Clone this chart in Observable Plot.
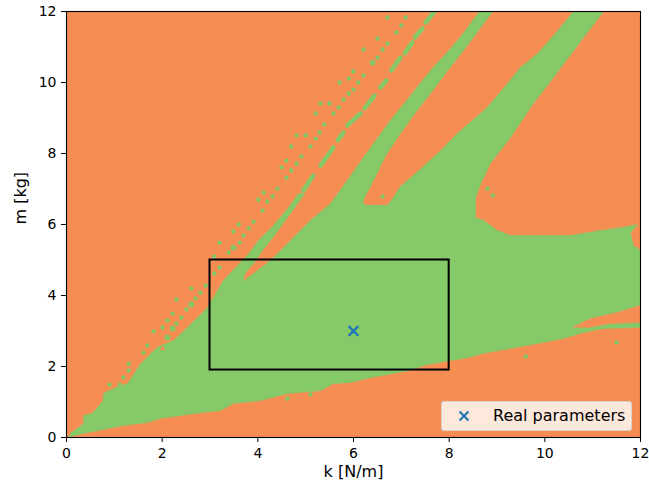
<!DOCTYPE html>
<html><head><meta charset="utf-8">
<script src="https://cdn.jsdelivr.net/npm/d3@7"></script>
<script src="https://cdn.jsdelivr.net/npm/@observablehq/plot@0.6"></script>
<style>
body{margin:0;background:#fff;}
#wrap{position:relative;width:649px;height:491px;font-family:"DejaVu Sans",sans-serif;}
#legend{position:absolute;left:441px;top:401px;width:191px;height:30px;background:rgba(255,255,255,0.8);border:1px solid rgba(204,204,204,0.8);border-radius:3px;box-sizing:border-box;}
#legend svg{position:absolute;left:16px;top:8px;}
#legend span{position:absolute;left:51px;top:4px;font-size:16px;line-height:20px;color:#000;white-space:nowrap;}
</style>
</head><body>
<div id="wrap">
<div id="legend"><svg width="12" height="12" viewBox="0 0 12 12"><path d="M1.5,1.5L10.5,10.5M10.5,1.5L1.5,10.5" stroke="#1f77b4" stroke-width="2.2"/></svg><span>Real parameters</span></div>
</div>
<script>
// ---- data (k [N/m], m [kg]) ----
const xTicks = [0, 2, 4, 6, 8, 10, 12];
const yTicks = [0, 2, 4, 6, 8, 10, 12];
const realParams = [[6, 3]];
const searchBox = [[3, 8, 1.9, 5]]; // k1, k2, m1, m2

// stable (green) region outline
const mainRegion = [
  [0.04,0.0],[0.08,0.11],[0.36,0.39],[0.36,0.62],[0.54,0.68],[0.77,1.04],[0.77,1.24],[0.98,1.38],
  [1.28,1.52],[1.55,2.08],[1.90,2.54],[2.24,2.73],[2.53,3.10],[2.95,3.66],[3.07,3.94],[3.28,4.42],
  [3.58,4.85],[3.81,5.18],[4.01,5.55],[4.27,5.89],[4.47,6.20],[4.68,6.54],[4.85,6.87],
  [4.98,6.87],[4.83,6.59],[4.68,6.31],[4.47,5.92],[4.31,5.63],[4.10,5.27],[3.91,4.90],[3.74,4.65],
  [3.68,4.39],
  [3.99,4.70],[4.27,4.99],[4.54,5.35],[4.83,5.75],[5.10,6.11],[5.52,6.59],[5.87,7.24],[6.31,8.08],
  [6.77,8.93],[7.19,9.63],[7.61,10.34],[8.03,10.96],[8.34,11.46],[8.63,12.0],[8.91,12.0],
  [8.61,11.46],[8.30,10.90],[7.97,10.34],[7.61,9.69],[7.25,9.07],[6.98,8.56],[6.67,7.94],[6.42,7.24],
  [6.25,6.82],[6.19,6.62],
  [6.27,6.54],[6.71,6.54],[6.82,6.73],[6.98,7.07],
  [7.25,7.38],[7.76,8.00],[8.17,8.56],[8.80,9.30],[9.22,9.97],[9.49,10.42],[9.85,10.82],[10.27,11.46],
  [10.60,12.0],[11.23,12.0],
  [10.81,11.27],[10.18,10.14],[9.76,9.41],[9.28,8.45],[8.86,7.72],[8.66,7.15],[8.55,6.76],[8.55,6.20],
  [8.72,6.11],[9.01,5.83],[9.28,5.69],[10.54,5.69],[11.16,5.83],[11.65,5.92],[11.94,6.00],[11.79,5.77],
  [11.85,5.41],[12.0,5.27],
  [12.0,3.10],
  [11.23,3.07],[10.81,2.96],[10.39,2.79],[9.85,2.65],[9.28,2.51],[8.72,2.37],[8.38,2.25],[8.03,2.17],
  [7.46,2.03],[7.19,1.89],[6.36,1.69],[5.94,1.55],[5.58,1.52],[5.31,1.32],[4.62,1.24],[4.06,1.04],
  [3.49,0.96],[3.22,0.76],[2.80,0.70],[1.97,0.54],[1.69,0.42],[1.19,0.34],[0.86,0.25],[0.44,0.14],
  [0.08,0.03]
];
// unstable (orange) sliver inside the green region
const orangeSliver = [
  [10.58,3.10],[10.96,3.35],[11.52,3.52],[12.0,3.72],[12.0,3.24],[11.37,3.21],[10.91,3.10]
];
// broken thin green stripe: [segment, k, m]
const brokenStripe = [
  [1,4.95,6.96],[1,5.16,7.38],[2,5.31,7.66],[2,5.58,8.17],[3,5.67,8.37],[3,5.79,8.59],
  [4,5.87,8.79],[4,6.15,9.13],[5,6.23,9.27],[5,6.44,9.63],[6,6.56,9.86],[6,6.69,10.06],
  [7,6.79,10.34],[7,6.98,10.70],[8,7.07,10.82],[8,7.23,11.13],[9,7.28,11.27],[9,7.44,11.52],
  [10,7.51,11.69],[10,7.69,12.0]
];
// isolated stable points
const greenDots = [
  [6.71,11.83],[7.09,11.83],[7.00,11.61],[6.90,11.41],[6.50,11.24],[6.71,11.10],[6.21,10.93],[6.61,10.93],
  [6.50,10.70],[6.00,10.31],[6.21,10.20],[5.71,10.00],[5.90,10.11],[6.10,10.00],[6.00,9.80],[5.90,9.69],
  [5.79,9.52],[5.31,9.41],[5.50,9.41],[5.69,9.30],[5.21,9.13],[5.58,9.13],[5.39,8.82],[5.29,8.59],
  [4.81,8.51],[5.00,8.51],[5.21,8.42],[4.70,8.20],[5.10,8.20],[4.91,7.92],[4.60,7.80],[4.81,7.72],
  [4.50,7.61],[4.70,7.52],[4.60,7.32],[4.41,7.01],[4.12,6.90],[4.31,6.79],[4.20,6.65],[4.01,6.70],
  [4.10,6.39],[3.60,6.00],[3.91,6.08],[3.49,5.80],[3.81,5.89],[3.70,5.69],[3.20,5.49],[3.62,5.49],
  [3.39,5.21],[3.09,5.10],[3.20,4.79],[3.09,4.62],[2.91,4.28],[2.61,4.20],[2.80,4.08],[2.30,3.89],
  [2.70,3.92],[2.51,3.61],[2.22,3.49],[2.40,3.38],[2.11,3.30],[2.30,3.21],[2.01,3.10],[1.82,2.99],
  [1.69,2.59],[1.61,2.39],[1.30,2.08],[1.30,1.89],[1.19,1.69],[0.90,1.49],[1.11,1.49],
  [4.62,1.10],[5.10,1.21],[9.60,2.28],[11.50,2.68],[8.80,7.01],[8.91,6.82],[6.61,6.79]
];
const largeGreenDots = [[6.40,10.56],[3.49,5.35],[2.61,3.75],[2.22,3.07],[2.11,2.82]];
const orangeDots = [[2.01,2.51]];

// ---- drawing ----
const ORANGE = "#f68d52", GREEN = "#85c968";
const pts = (arr) => arr.map(([k, m]) => ({k, m}));

const chart = Plot.plot({
  width: 649, height: 491,
  marginLeft: 66, marginRight: 9, marginTop: 11, marginBottom: 54,
  x: {domain: [0, 12]},
  y: {domain: [0, 12]},
  style: {fontFamily: "DejaVu Sans, sans-serif", fontSize: "14px", color: "black", background: "white", overflow: "visible"},
  marks: [
    Plot.frame({fill: ORANGE, stroke: null}),
    Plot.line(pts(mainRegion), {x: "k", y: "m", fill: GREEN, stroke: GREEN, strokeWidth: 0.6, clip: true}),
    Plot.line(pts(orangeSliver), {x: "k", y: "m", fill: ORANGE, stroke: ORANGE, strokeWidth: 0.6, clip: true}),
    Plot.line(brokenStripe.map(([s, k, m]) => ({s, k, m})), {x: "k", y: "m", z: "s", stroke: GREEN, strokeWidth: 4.5, strokeLinecap: "round", clip: true}),
    Plot.dot(pts(greenDots), {x: "k", y: "m", r: 2.2, fill: GREEN, stroke: null, clip: true}),
    Plot.dot(pts(largeGreenDots), {x: "k", y: "m", r: 2.9, fill: GREEN, stroke: null, clip: true}),
    Plot.dot(pts(orangeDots), {x: "k", y: "m", r: 2, fill: ORANGE, stroke: null}),
    Plot.rect(searchBox.map(([k1, k2, m1, m2]) => ({k1, k2, m1, m2})), {x1: "k1", x2: "k2", y1: "m1", y2: "m2", fill: "none", stroke: "black", strokeWidth: 2}),
    Plot.dot(pts(realParams), {x: "k", y: "m", symbol: "times", r: 4.5, stroke: "#1f77b4", strokeWidth: 2.2}),
    Plot.frame({stroke: "black", strokeWidth: 1.1}),
    Plot.axisX({ticks: xTicks, tickSize: 5, tickPadding: 6, label: null, fontSize: 14, tickFormat: d => String(d)}),
    Plot.axisY({ticks: yTicks, tickSize: 5, tickPadding: 5, label: null, fontSize: 14, tickFormat: d => String(d)}),
    Plot.text(["k [N/m]"], {frameAnchor: "bottom", lineAnchor: "middle", dy: 34, text: d => d, fontSize: 16}),
    Plot.text(["m [kg]"], {frameAnchor: "left", lineAnchor: "middle", dx: -46, rotate: -90, text: d => d, fontSize: 16})
  ]
});
document.getElementById("wrap").prepend(chart);
</script>
</body></html>
